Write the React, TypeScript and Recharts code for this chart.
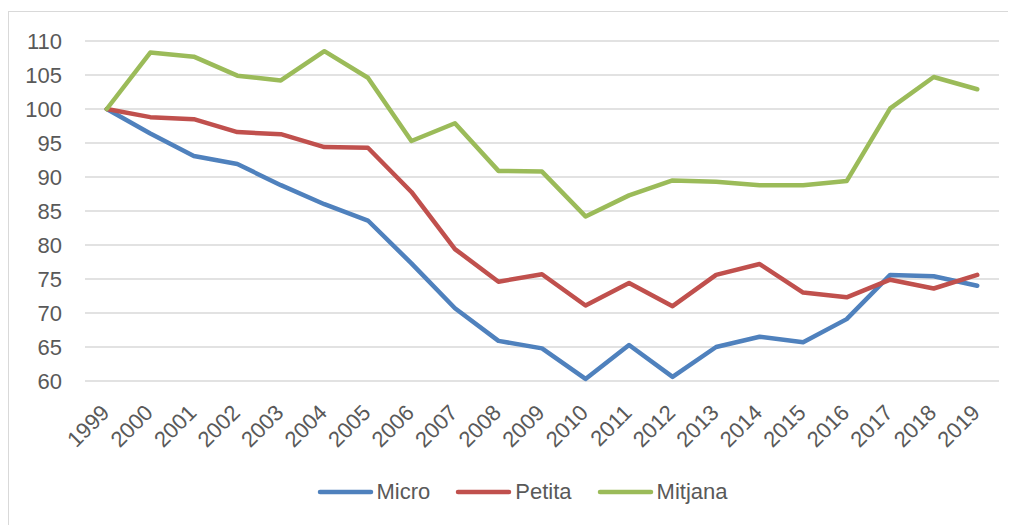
import React from 'react';
import { CartesianGrid, Legend, Line, LineChart, XAxis, YAxis } from 'recharts';

const YEARS = [
  '1999', '2000', '2001', '2002', '2003', '2004', '2005', '2006', '2007', '2008', '2009',
  '2010', '2011', '2012', '2013', '2014', '2015', '2016', '2017', '2018', '2019',
];

const MICRO = [
  100, 96.4, 93.1, 91.9, 88.8, 86.0, 83.6, 77.3, 70.7, 65.9, 64.8,
  60.3, 65.3, 60.6, 65.0, 66.5, 65.7, 69.1, 75.6, 75.4, 74.0,
];

const PETITA = [
  100, 98.8, 98.5, 96.6, 96.3, 94.4, 94.3, 87.8, 79.4, 74.6, 75.7,
  71.1, 74.4, 71.0, 75.6, 77.2, 73.0, 72.3, 74.9, 73.6, 75.6,
];

const MITJANA = [
  100, 108.3, 107.7, 104.9, 104.2, 108.5, 104.6, 95.3, 97.9, 90.9, 90.8,
  84.2, 87.3, 89.5, 89.3, 88.8, 88.8, 89.4, 100.1, 104.7, 102.9,
];

const Y_TICKS = [60, 65, 70, 75, 80, 85, 90, 95, 100, 105, 110];

const SERIES = [
  { key: 'Micro', values: MICRO, color: '#4F81BD' },
  { key: 'Petita', values: PETITA, color: '#C0504D' },
  { key: 'Mitjana', values: MITJANA, color: '#9BBB59' },
];

const data = YEARS.map((year, i) => ({
  year,
  Micro: MICRO[i],
  Petita: PETITA[i],
  Mitjana: MITJANA[i],
}));

const FONT = '"Liberation Sans", Arial, sans-serif';
const TEXT_COLOR = '#595959';
const GRID_COLOR = '#D9D9D9';
const FONT_SIZE = 22;

const YTick = ({ x = 0, y = 0, payload }: any) => (
  <text
    x={x - 23}
    y={y}
    dy="0.355em"
    textAnchor="end"
    fill={TEXT_COLOR}
    fontFamily={FONT}
    fontSize={FONT_SIZE}
  >
    {payload.value}
  </text>
);

const XTick = ({ x = 0, y = 0, payload }: any) => {
  const tx = x + 4;
  const ty = y + 33;
  return (
    <text
      x={tx}
      y={ty}
      textAnchor="end"
      transform={`rotate(-45, ${tx}, ${ty})`}
      fill={TEXT_COLOR}
      fontFamily={FONT}
      fontSize={FONT_SIZE}
    >
      {payload.value}
    </text>
  );
};

const LegendContent = () => (
  <div
    style={{
      width: 1008,
      height: 64,
      boxSizing: 'border-box',
      paddingTop: 20,
      paddingLeft: 20,
      display: 'flex',
      justifyContent: 'center',
      alignItems: 'flex-start',
      gap: 25,
    }}
  >
    {SERIES.map((s) => (
      <div key={s.key} style={{ display: 'flex', alignItems: 'center', height: 22 }}>
        <svg width={57} height={8} style={{ display: 'block' }}>
          <line x1={3} y1={4} x2={54} y2={4} stroke={s.color} strokeWidth={4.5} strokeLinecap="round" />
        </svg>
        <span
          style={{
            marginLeft: 3,
            fontFamily: FONT,
            fontSize: FONT_SIZE,
            color: TEXT_COLOR,
            lineHeight: '22px',
          }}
        >
          {s.key}
        </span>
      </div>
    ))}
  </div>
);

const App: React.FC = () => {
  return (
    <div style={{ position: 'relative', width: 1008, height: 517, overflow: 'hidden' }}>
      <div
        style={{
          position: 'absolute',
          left: 0,
          top: 3,
          right: 0,
          bottom: 0,
          borderLeft: `1.5px solid ${GRID_COLOR}`,
          borderTop: `1.5px solid ${GRID_COLOR}`,
        }}
      />
      <LineChart
        width={1008}
        height={517}
        data={data}
        margin={{ top: 33, right: 17, left: 0, bottom: 0 }}
      >
        <CartesianGrid vertical={false} stroke={GRID_COLOR} strokeWidth={1.5} />
        <XAxis
          dataKey="year"
          axisLine={false}
          tickLine={false}
          tickSize={0}
          tickMargin={0}
          height={80}
          interval={0}
          padding={{ left: 21.76, right: 21.76 }}
          tick={<XTick />}
        />
        <YAxis
          width={77}
          domain={[60, 110]}
          ticks={Y_TICKS}
          axisLine={false}
          tickLine={false}
          tickSize={0}
          tickMargin={0}
          tick={<YTick />}
        />
        <Legend
          verticalAlign="bottom"
          content={<LegendContent />}
          wrapperStyle={{ left: 0, width: 1008, height: 64, bottom: 0 }}
        />
        {SERIES.map((s) => (
          <Line
            key={s.key}
            type="linear"
            dataKey={s.key}
            stroke={s.color}
            strokeWidth={4.5}
            strokeLinejoin="round"
            strokeLinecap="round"
            dot={false}
            activeDot={false}
            isAnimationActive={false}
          />
        ))}
      </LineChart>
    </div>
  );
};

export default App;
